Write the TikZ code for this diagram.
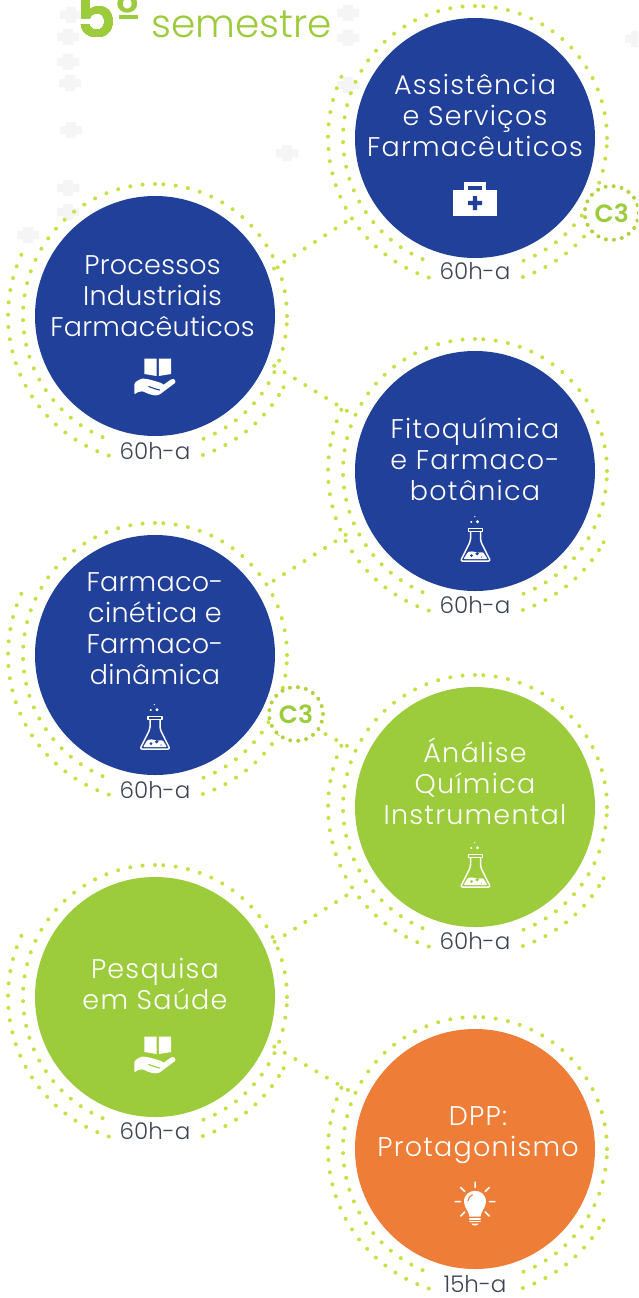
\documentclass[tikz,border=0pt]{standalone}
\usepackage{fontspec}
\setmainfont{Poppins}
\newfontfamily\lightf[LetterSpace=4.6]{Poppins Light}
\newfontfamily\lighttight[LetterSpace=1]{Poppins Light}
\newfontfamily\hoursf{Poppins Light}
\newfontfamily\semif{Poppins SemiBold}
\definecolor{navy}{HTML}{21409A}
\definecolor{leaf}{HTML}{9CCB3B}
\definecolor{amber}{HTML}{ED7D37}
\definecolor{dotc}{HTML}{C9DF45}
\definecolor{ringc}{HTML}{B2D33F}
\definecolor{slate}{HTML}{3D4554}
\definecolor{faint}{HTML}{F5F5F5}
\tikzset{
  coursedisc/.style={circle,minimum size=240pt,inner sep=0pt,outer sep=0pt,draw=none},
  coursetext/.style={text=white,align=center,font=\lightf\fontsize{27}{31}\selectfont},
  coursetight/.style={text=white,align=center,font=\lighttight\fontsize{27}{31}\selectfont},
  hours/.style={text=slate,font=\hoursf\fontsize{23}{24}\selectfont,inner sep=0pt},
  dotsA/.style={draw=dotc,line width=4pt,line cap=round,dash pattern=on 0pt off 12.44pt},
  dotsB/.style={draw=dotc,line width=4pt,line cap=round,dash pattern=on 0pt off 12.35pt},
  conn/.style={draw=dotc,line width=4pt,line cap=round,dash pattern=on 0pt off 12.2pt},
  cthree/.style={circle,fill=white,draw=ringc,line width=4pt,line cap=round,dash pattern=on 0pt off 8.08pt,
    minimum size=54pt,inner sep=0pt,outer sep=0pt,text=leaf,font=\semif\fontsize{25}{26}\selectfont},
  icon/.style={line width=1.5pt,draw=white,line cap=round,line join=round}
}
\newcommand{\course}[4]{%
  \node[coursedisc,fill=#4] (#1) at (#2,#3) {};
  \draw[dotsA] (#1.center) ++(90:132pt) arc[start angle=90,end angle=250.6,radius=132pt];
  \draw[dotsA] (#1.center) ++(0:132pt) arc[start angle=0,end angle=87,radius=132pt];
  \draw[dotsA] (#1.center) ++(-3.6:132pt) arc[start angle=-3.6,end angle=-68.6,radius=132pt];
  \draw[dotsB] (#1.center) ++(155.4:147pt) arc[start angle=155.4,end angle=252.8,radius=147pt];
  \draw[dotsB] (#1.center) ++(289:147pt) arc[start angle=289,end angle=328,radius=147pt];
  \draw[dotsB] (#1.center) ++(331:147pt) -- ++(0:0.01pt);
}
\newcommand{\bgplus}[2]{\fill[faint] (#1-11,#2-4) rectangle (#1+11,#2+4) (#1-5,#2-8) rectangle (#1+5,#2+8);}
\newcommand{\flaskicon}[3]{% x y disc colour ; origin: base centre
\begin{scope}[shift={(#1,#2)}]
  \draw[icon] (-7,-33.5) rectangle (7,-30.5);
  \draw[icon,rounded corners=2pt] (-5,-30.5) -- (-5,-21) -- (-15,-1) -- (15,-1) -- (5,-21) -- (5,-30.5);
  \fill[white,rounded corners=1pt] (-12,-3) -- (-7.5,-10) .. controls (-3,-11.5) and (3,-8.5) .. (7.5,-10) -- (12,-3) -- cycle;
  \fill[#3] (-4,-6.3) circle (1.5) (1.7,-8.3) circle (1.8) (6,-5) circle (0.7);
  \fill[white] (-4.2,-40) circle (1.1) (2,-40.3) circle (1.6) (-0.7,-45.3) circle (0.7);
\end{scope}}
\newcommand{\handicon}[3]{% origin: book bottom centre
\begin{scope}[shift={(#1,#2)}]
  \fill[white] (-13.3,-18.5) -- (-1.2,-18.5) -- (-1.2,-1) -- (-13.3,-3) -- cycle;
  \fill[white] (13.3,-18.5) -- (1.2,-18.5) -- (1.2,-1) -- (13.3,-3) -- cycle;
  \fill[white,rounded corners=1pt] (-23.4,6.5) .. controls (-20,3) and (-16,1.5) .. (-14,1.7)
     .. controls (-9,2) and (-3,4) .. (2,5.5) .. controls (6,7) and (6,8) .. (5.5,8)
     -- (14,2) -- (17,2.2) -- (18,5.5) -- (2,17.5) .. controls (-2,19) and (-6,18.5) .. (-14.5,14.5)
     .. controls (-18,14) and (-21,15.5) .. (-23.4,17.5) -- cycle;
  \draw[#3,line width=1.1pt,line cap=round] (-9,9.5) .. controls (-5,11) and (-1,12.5) .. (2,13);
\end{scope}}
\newcommand{\bulbicon}[3]{% origin: bulb centre
\begin{scope}[shift={(#1,#2)}]
  \fill[white] (-5.5,15) .. controls (-6,9) and (-11,6) .. (-11,0) .. controls (-11,-14.5) and (11,-14.5) .. (11,0)
     .. controls (11,6) and (6,9) .. (5.5,15) -- cycle;
  \draw[#3,line width=1.1pt,line cap=round] (-7,-1) .. controls (-6.5,-4) and (-5,-6) .. (-2.5,-7);
  \draw[icon] (-5.3,17.3) -- (5.3,17.3) (-5.3,20) -- (5.3,20);
  \fill[white] (-3.8,21.8) .. controls (-3,24.5) and (3,24.5) .. (3.8,21.8) -- cycle;
  \draw[icon] (0,-14) -- (0,-19.5) (-14.5,0) -- (-20,0) (14.5,0) -- (20,0)
     (-10.2,-10.2) -- (-14.3,-14.3) (10.2,-10.2) -- (14.3,-14.3)
     (-10.2,10.2) -- (-14.3,14.3) (10.2,10.2) -- (14.3,14.3);
\end{scope}}
\newcommand{\kiticon}[3]{%
\begin{scope}[shift={(#1,#2)}]
  \fill[white] (-22,-13) rectangle (22,13);
  \fill[white] (-11,-21) rectangle (11,-13);
  \fill[#3] (-7,-17.5) rectangle (7,-13);
  \fill[#3] (-7,-2.2) rectangle (7,2.2) (-2.2,-7) rectangle (2.2,7);
\end{scope}}
\begin{document}
\begin{tikzpicture}[x=1pt,y=-1pt]
\useasboundingbox (0,0) rectangle (638,1298);
\clip (0,0) rectangle (638,1298);
\fill[white] (0,0) rectangle (638,1298);
% faint background crosses
\foreach \p/\q in {71/15,68/37,68/62,70/83,71/130,68/188,68/212,28/235,287/153,348/13,348/38,348/85,636/39}
  \bgplus{\p}{\q}
% title
\node[anchor=base west,inner sep=0pt,text=leaf,font=\semif\fontsize{62}{62}\selectfont] (five) at (76,38) {5};
\node[anchor=base west,inner sep=0pt,text=leaf,font=\semif\fontsize{50}{50}\selectfont] (ord) at (116,31) {º};
\fill[leaf] (118.5,15) rectangle (137.5,19.5);
\node[anchor=base west,inner sep=0pt,text=leaf,font=\hoursf\fontsize{39}{39}\selectfont] (sem) at (151,38) {semestre};
% courses
\course{assist}{475}{138}{navy}
\course{proc}{155}{316}{navy}
\course{fito}{475}{471}{navy}
\course{farm}{155}{655}{navy}
\course{ana}{475}{807}{leaf}
\course{pesq}{155}{997}{leaf}
\course{dpp}{475}{1149}{amber}
% labels
\node[coursetext] (tassist) at (475,115) {Assistência\\e Serviços\\Farmacêuticos};
\node[coursetight] (tproc) at (152.5,296) {Processos\\Industriais\\Farmacêuticos};
\node[coursetext] (tfito) at (475,459) {Fitoquímica\\e Farmaco-\\botânica};
\node[coursetight] (tfarm) at (155,628.5) {Farmaco-\\cinética e\\Farmaco-\\dinâmica};
\node[coursetext] (tana) at (475,781.5) {Ánálise\\Química\\Instrumental};
\node[coursetext] (tpesq) at (155,984) {Pesquisa\\em Saúde};
\node[coursetext] (tdpp) at (478,1135.5) {DPP:\\Protagonismo};
% hours
\node[hours] (hassist) at (475,271) {60h-a};
\node[hours] (hproc) at (155,451) {60h-a};
\node[hours] (hfito) at (475,605) {60h-a};
\node[hours] (hfarm) at (155,790) {60h-a};
\node[hours] (hana) at (475,941) {60h-a};
\node[hours] (hpesq) at (155,1131) {60h-a};
\node[hours] (hdpp) at (475,1284) {15h-a};
% icons
\kiticon{475}{203}{navy}
\handicon{157.7}{377}{navy}
\flaskicon{475.5}{562}{navy}
\flaskicon{155}{750}{navy}
\flaskicon{475.5}{888}{leaf}
\handicon{157.7}{1055}{leaf}
\bulbicon{475}{1201.7}{amber}
% C3 tags
\node[cthree] (cthreeA) at (611.7,213) {C3};
\node[cthree] (cthreeB) at (296,714) {C3};
% connectors
\draw[conn,shorten <=8.3pt,shorten >=23.7pt] (proc.21.1) -- (assist.213.4);
\draw[conn,shorten <=9.3pt,shorten >=13pt] (proc.-22) -- (fito.156);
\draw[conn,shorten <=20pt,shorten >=13.3pt] (farm.32.2) -- (fito.205.3);
\draw[conn,shorten <=8.8pt,shorten >=12pt] (cthreeB.-36) -- (ana.155.8);
\draw[conn,shorten <=11.8pt,shorten >=25.9pt] (pesq.24.5) -- (ana.215.4);
\draw[conn,shorten <=9.3pt,shorten >=13pt] (pesq.-22) -- (dpp.156);
\end{tikzpicture}
\end{document}
